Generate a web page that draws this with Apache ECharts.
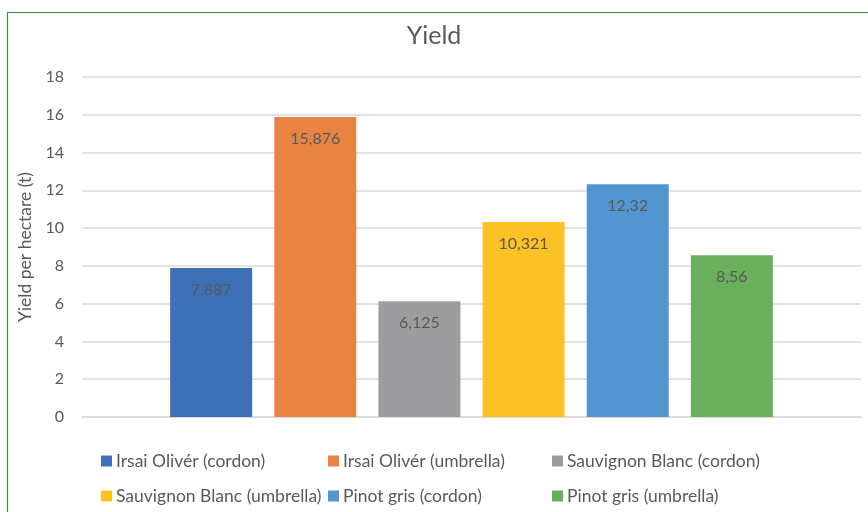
<!DOCTYPE html>
<html>
<head>
<meta charset="utf-8">
<script src="https://cdn.jsdelivr.net/npm/echarts@6/dist/echarts.min.js"></script>
<style>html,body{margin:0;padding:0;background:#fff}#c{width:868px;height:512px}</style>
</head>
<body>
<div id="c"></div>
<script>
const seriesNames = ["Irsai Olivér (cordon)", "Irsai Olivér (umbrella)", "Sauvignon Blanc (cordon)", "Sauvignon Blanc (umbrella)", "Pinot gris (cordon)", "Pinot gris (umbrella)"];
const seriesValues = [7.887, 15.876, 6.125, 10.321, 12.32, 8.56];
const seriesColors = ["#3E70B8", "#E88441", "#9D9D9F", "#FBC125", "#5295D1", "#6AAF5B"];
const categories = [""];
const yTicks = { min: 0, max: 18, interval: 2 };

const FONT = "Lato";
const TXT = "#595959";

const series = seriesNames.map((n, i) => ({
  name: n,
  type: "bar",
  data: [seriesValues[i]],
  barWidth: 82,
  barGap: "27%",
  itemStyle: { color: seriesColors[i] },
  label: {
    show: true,
    position: "insideTop",
    distance: 14,
    color: TXT,
    fontFamily: FONT,
    fontSize: 16,
    formatter: p => String(p.value).replace(".", ",")
  }
}));

const legendCols = [[0, 3], [1, 4], [2, 5]];
const legendLefts = [101, 328, 552];
const legends = legendCols.map((idx, k) => ({
  orient: "vertical",
  left: legendLefts[k],
  top: 452,
  itemWidth: 11,
  itemHeight: 11,
  itemGap: 17,
  padding: 0,
  icon: "rect",
  textStyle: { color: TXT, fontFamily: FONT, fontSize: 17.5, padding: [0, 0, 0, -1] },
  data: idx.map(i => seriesNames[i]),
  selectedMode: false
}));

const chart = echarts.init(document.getElementById("c"), null, { renderer: "canvas" });
chart.setOption({
  animation: false,
  title: {
    text: "Yield",
    left: "center",
    top: 23,
    padding: [0, 0, 0, 4],
    textStyle: { color: TXT, fontFamily: FONT, fontSize: 25, fontWeight: "normal" }
  },
  graphic: [{
    type: "rect",
    shape: { x: 7.5, y: 12.5, width: 900, height: 600 },
    style: { fill: "none", stroke: "#3E8E3E", lineWidth: 1.2 },
    silent: true
  }],
  legend: legends,
  grid: { left: 82, right: 7, top: 77, bottom: 95 },
  xAxis: {
    type: "category",
    data: categories,
    axisLine: { lineStyle: { color: "#D9D9D9", width: 1.5 } },
    axisTick: { show: false },
    axisLabel: { show: false }
  },
  yAxis: {
    type: "value",
    min: yTicks.min,
    max: yTicks.max,
    interval: yTicks.interval,
    name: "Yield per hectare (t)",
    nameLocation: "middle",
    nameGap: 44,
    nameTextStyle: { color: TXT, fontFamily: FONT, fontSize: 17.5 },
    axisLine: { show: false },
    axisTick: { show: false },
    axisLabel: { color: TXT, fontFamily: FONT, fontSize: 16, margin: 18 },
    splitLine: { lineStyle: { color: "#D9D9D9", width: 1.5 } }
  },
  series: series
});
</script>
</body>
</html>
